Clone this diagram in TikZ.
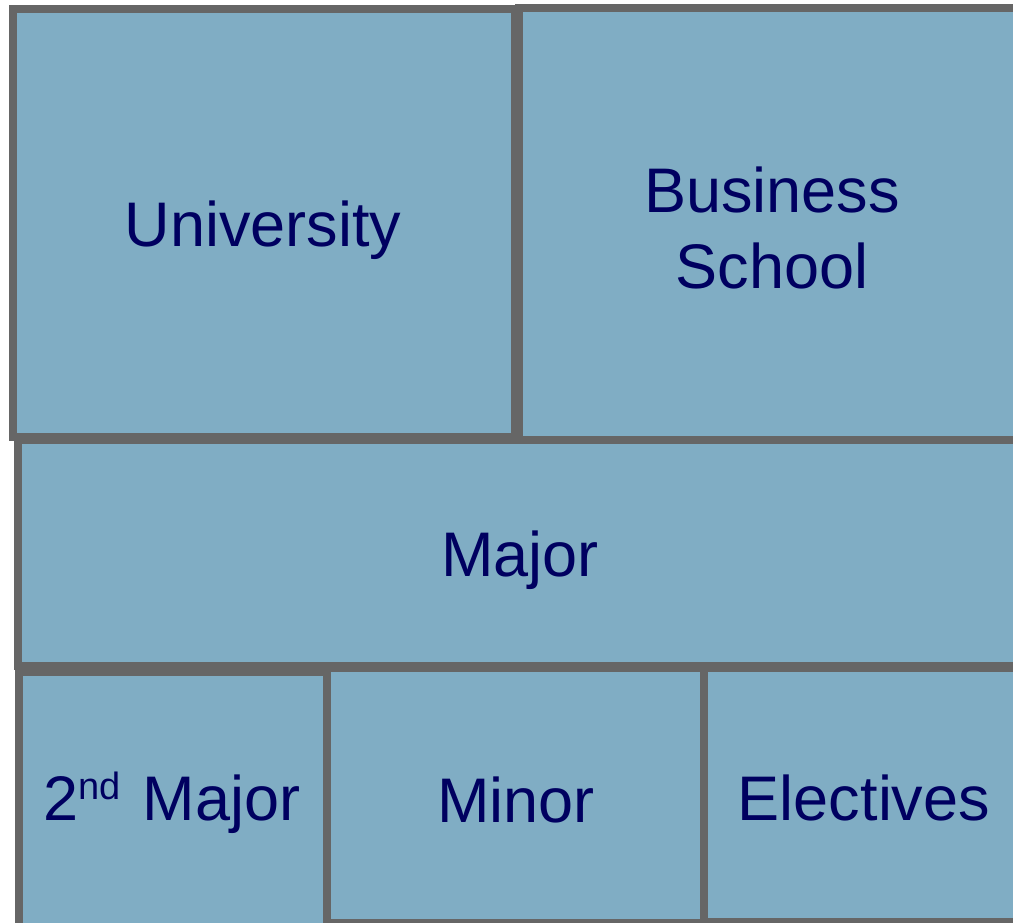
\documentclass[tikz,border=0pt]{standalone}
\usepackage{fontspec}
\setmainfont{Liberation Sans}
\definecolor{boxfill}{RGB}{128,173,196}
\definecolor{boxline}{RGB}{102,102,102}
\definecolor{boxtext}{RGB}{0,0,96}
\begin{document}
\begin{tikzpicture}[x=1pt,y=-1pt,
  blk/.style={draw=boxline,fill=boxfill,line width=8pt},
  lbl/.style={text=boxtext,font=\fontsize{63}{76}\selectfont,align=center,inner sep=0pt}]
\useasboundingbox (0,0) rectangle (1013,922);
\begin{scope}
\clip (0,0) rectangle (1013,922);
\draw[blk] (12.5,9) rectangle (515,437);
\draw[blk] (519,7.5) rectangle (1030,440);
\draw[blk] (17.5,440) rectangle (1030,666);
\draw[blk] (18.5,672) rectangle (327,940);
\draw[blk] (327,668) rectangle (704,923);
\draw[blk] (704,668) rectangle (1030,922);
\end{scope}
\node[lbl] (univ) at (263,230) {University};
\node[lbl] (bs) at (772,228) {Business\\School};
\node[lbl] (major) at (520,560) {Major};
\node[lbl] (second) at (172,803) {2\raisebox{21pt}{\fontsize{38}{38}\selectfont nd}\hspace{4pt} Major};
\node[lbl] (minor) at (516,800) {Minor};
\node[lbl] (elect) at (864,798) {Electives};
\end{tikzpicture}
\end{document}
